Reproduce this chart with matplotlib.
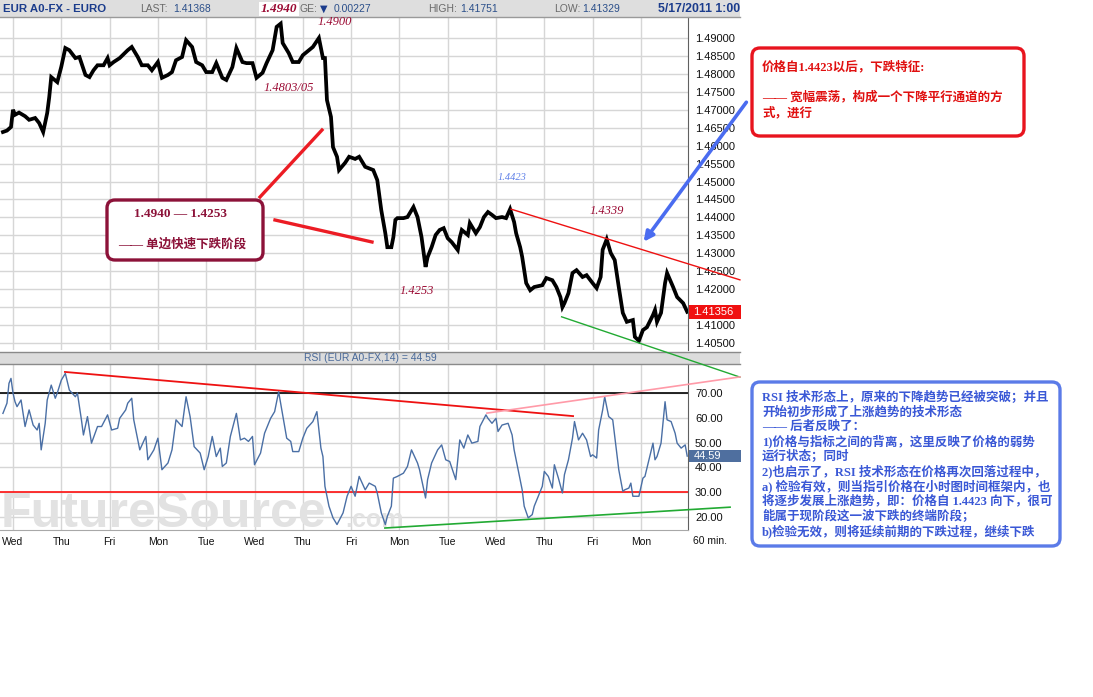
import matplotlib
matplotlib.use("Agg")
import matplotlib.pyplot as plt
import matplotlib.transforms as mtransforms
from matplotlib.patches import Rectangle, FancyBboxPatch, FancyArrowPatch
from matplotlib.lines import Line2D

W, H = 1093, 697

# hourly bars, hour 0 = first Wednesday gridline
hours = [-5, -3, -1, 0, 1, 3, 6, 8, 11, 13, 15, 17, 18, 19, 22, 24, 26, 28, 31, 33,
         36, 38, 40, 42, 45, 47, 48, 50, 53, 57, 59, 62, 64, 67, 69, 72, 74, 77, 79, 81,
         84, 86, 89, 91, 94, 96, 99, 101, 104, 106, 109, 111, 114, 116, 119, 121, 124, 126, 129, 131,
         133, 134, 137, 139, 142, 144, 147, 149, 152, 154, 155, 156, 158, 159, 161, 162, 165, 167, 170, 172,
         175, 179, 181, 183, 185, 186, 188, 189, 190, 191, 194, 196, 199, 201, 203, 205, 206, 208, 210, 212,
         214, 216, 218, 221, 222, 223, 226, 227, 230, 232, 234, 236, 238, 240, 243, 245, 247, 249, 250, 252,
         253, 255, 257, 259, 263, 265, 268, 270, 272, 273, 274, 276, 278, 280, 283, 285, 288, 290, 292, 293,
         295, 297, 299, 301, 303, 305, 308, 309, 311, 313, 315, 318, 319, 320, 322, 324, 325, 328, 330, 333,
         335]
price = [1.4638, 1.4642, 1.4652, 1.4700, 1.4686, 1.4692, 1.4682, 1.4672, 1.4677, 1.4663, 1.4638, 1.4691, 1.4735, 1.4791, 1.4777, 1.4820, 1.4872, 1.4866, 1.4844, 1.4847,
         1.4797, 1.4791, 1.4810, 1.4824, 1.4824, 1.4844, 1.4824, 1.4833, 1.4844, 1.4866, 1.4875, 1.4847, 1.4824, 1.4824, 1.4810, 1.4833, 1.4789, 1.4797, 1.4805, 1.4838,
         1.4847, 1.4894, 1.4875, 1.4833, 1.4824, 1.4805, 1.4805, 1.4830, 1.4789, 1.4783, 1.4819, 1.4872, 1.4833, 1.4830, 1.4830, 1.4789, 1.4803, 1.4830, 1.4866, 1.4931,
         1.4940, 1.4886, 1.4858, 1.4833, 1.4833, 1.4852, 1.4866, 1.4875, 1.4900, 1.4844, 1.4844, 1.4727, 1.4680, 1.4596, 1.4569, 1.4532, 1.4552, 1.4569, 1.4563, 1.4569,
         1.4541, 1.4532, 1.4504, 1.4420, 1.4356, 1.4317, 1.4317, 1.4345, 1.4393, 1.4398, 1.4398, 1.4401, 1.4429, 1.4401, 1.4345, 1.4262, 1.4289, 1.4317, 1.4351, 1.4365,
         1.4370, 1.4342, 1.4331, 1.4309, 1.4344, 1.4365, 1.4351, 1.4384, 1.4356, 1.4373, 1.4401, 1.4415, 1.4407, 1.4398, 1.4401, 1.4398, 1.4423, 1.4387, 1.4356, 1.4317,
         1.4290, 1.4217, 1.4197, 1.4206, 1.4211, 1.4231, 1.4225, 1.4206, 1.4178, 1.4150, 1.4161, 1.4189, 1.4245, 1.4253, 1.4234, 1.4239, 1.4217, 1.4203, 1.4234, 1.4310,
         1.4339, 1.4301, 1.4281, 1.4206, 1.4134, 1.4109, 1.4114, 1.4067, 1.4056, 1.4086, 1.4094, 1.4128, 1.4142, 1.4109, 1.4134, 1.4217, 1.4245, 1.4206, 1.4178, 1.4161,
         1.4137]

rsi_hours = [-5, -3, -2, -1, 0, 1, 2, 4, 6, 8, 10, 12, 13, 14, 16, 17, 19, 21, 22, 24,
             26, 28, 31, 32, 34, 35, 37, 39, 42, 44, 47, 49, 52, 53, 56, 57, 59, 60, 62, 63,
             66, 67, 70, 72, 74, 77, 79, 81, 84, 86, 88, 90, 93, 95, 97, 99, 101, 103, 104, 106,
             108, 111, 113, 115, 117, 119, 120, 123, 125, 128, 130, 132, 134, 136, 138, 139, 142, 144, 146, 149,
             151, 153, 154, 155, 157, 159, 161, 164, 166, 168, 170, 172, 175, 177, 180, 181, 183, 185, 186, 188,
             189, 191, 194, 196, 198, 201, 202, 205, 206, 208, 211, 213, 215, 217, 220, 221, 222, 224, 226, 228,
             231, 232, 235, 236, 238, 240, 241, 243, 246, 248, 249, 251, 253, 254, 256, 258, 259, 261, 263, 264,
             266, 268, 269, 271, 273, 274, 276, 278, 279, 281, 283, 285, 287, 288, 290, 291, 293, 294, 296, 298,
             299, 301, 303, 304, 306, 307, 308, 311, 313, 314, 316, 318, 319, 320, 322, 324, 325, 327, 329, 330,
             332, 334, 335]
rsi = [61.8, 65.9, 73.9, 75.9, 70.0, 66.5, 64.5, 67.2, 56.5, 63.2, 57.1, 55.1, 57.8, 47.1, 57.8, 67.2, 73.2, 67.9, 70.0, 75.2,
       77.9, 71.2, 68.5, 70.0, 59.2, 53.1, 60.5, 49.8, 56.5, 56.5, 61.2, 55.1, 55.8, 59.8, 63.2, 65.9, 67.9, 59.2, 51.1, 47.1,
       52.5, 43.1, 47.1, 51.8, 39.1, 41.8, 47.1, 59.2, 56.5, 68.5, 60.5, 48.4, 45.8, 39.1, 44.4, 52.5, 44.4, 47.8, 40.4, 41.8,
       52.5, 61.8, 51.1, 51.8, 50.5, 52.5, 41.1, 45.8, 53.8, 59.8, 62.5, 70.5, 61.2, 51.8, 50.5, 46.4, 46.4, 51.8, 55.8, 58.5,
       62.5, 47.8, 44.4, 32.4, 24.4, 19.7, 17.0, 21.7, 28.4, 32.4, 28.4, 36.4, 31.0, 33.7, 32.4, 29.7, 21.7, 17.0, 20.3, 24.4,
       35.7, 36.4, 37.7, 40.4, 47.1, 41.8, 39.1, 27.7, 35.1, 41.8, 47.1, 49.1, 43.1, 42.4, 35.1, 43.1, 51.1, 47.8, 53.1, 49.8,
       50.5, 56.5, 61.2, 59.8, 57.8, 59.8, 54.5, 57.1, 57.8, 53.1, 47.1, 39.1, 31.0, 24.4, 19.7, 21.0, 24.4, 28.4, 32.4, 38.4,
       36.4, 31.7, 41.1, 35.7, 29.7, 37.1, 43.1, 51.8, 58.5, 51.1, 53.8, 51.1, 44.4, 45.1, 43.8, 55.1, 63.2, 68.5, 60.5, 59.2,
       52.5, 39.1, 30.4, 31.0, 31.7, 33.7, 28.4, 28.4, 35.7, 36.4, 43.1, 49.8, 43.1, 44.4, 49.8, 66.5, 59.2, 58.5, 53.8, 49.8,
       47.8, 49.1, 44.59]

day_labels = ["Wed", "Thu", "Fri", "Mon", "Tue", "Wed", "Thu", "Fri", "Mon", "Tue", "Wed", "Thu", "Fri", "Mon"]
day_starts = [24 * i for i in range(len(day_labels))]
price_ticks = [1.405 + 0.005 * i for i in range(18)]
rsi_ticks = [20, 30, 40, 50, 60, 70]

# trend lines (hour, value)
upper_channel = ([247.5, 361.2], [1.4423, 1.4226])
lower_channel = ([272.6, 361.2], [1.4123, 1.3955])
rsi_down = ([25.8, 278.3], [78.5, 60.7])
rsi_break = ([235.5, 361.2], [61.9, 76.5])
rsi_support = ([184.8, 356.3], [15.6, 24.0])

last_price = 1.41356
last_rsi = 44.59

SANS = "Liberation Sans"
SERIF_CJK = ["Liberation Serif", "Noto Sans CJK SC", "DejaVu Sans"]

fig = plt.figure(figsize=(W / 100, H / 100), dpi=100)
# pixel coordinates, y pointing down
pix = mtransforms.Affine2D().scale(1 / W, -1 / H).translate(0, 1) + fig.transFigure


def fy(y):
    return 1 - y / H


grid_c = "#d6d6d6"
xlim = (-6.46, 335.4)

ax_p = fig.add_axes([0, fy(350), 688 / W, (350 - 17) / H])
ax_r = fig.add_axes([0, fy(530), 688 / W, (530 - 364) / H])

# price panel
ax_p.plot(hours, price, color="black", lw=2.7, solid_joinstyle="miter", zorder=3)
ax_p.set_xlim(*xlim)
ax_p.set_ylim(1.40305, 1.49585)
ax_p.set_xticks(day_starts)
ax_p.set_xticklabels([])
ax_p.set_yticks(price_ticks)
# the 1.41500 label sits under the last-price tag
ax_p.set_yticklabels(["" if abs(v - 1.415) < 1e-9 else f"{v:.5f}" for v in price_ticks])
ax_p.yaxis.tick_right()
ax_p.grid(True, color=grid_c, lw=1)
ax_p.set_axisbelow(True)

# rsi panel
ax_r.plot(rsi_hours, rsi, color="#4a6fa5", lw=1.0, zorder=3)
ax_r.axhline(70, color="black", lw=1.2, zorder=2)
ax_r.axhline(30, color="#ff1010", lw=1.2, zorder=2)
ax_r.plot(*rsi_down, color="#ee1111", lw=1.3, zorder=2)
ax_r.set_xlim(*xlim)
ax_r.set_ylim(14.8, 81.7)
ax_r.set_yticks(rsi_ticks)
ax_r.set_yticklabels([f"{v:.2f}" for v in rsi_ticks])
ax_r.yaxis.tick_right()
ax_r.set_xticks(day_starts)
ax_r.set_xticklabels(day_labels)
ax_r.grid(True, color=grid_c, lw=1)
ax_r.set_axisbelow(True)
ax_r.text(-6.3, 16.0, "FutureSource", fontsize=36, fontweight="bold", family=SANS,
          color="#e2e2e2", va="baseline", ha="left", zorder=1)
ax_r.text(165, 16.0, ".com", fontsize=18, fontweight="bold", family=SANS,
          color="#e2e2e2", va="baseline", ha="left", zorder=1)

for ax in (ax_p, ax_r):
    for s in ("left", "top", "bottom"):
        ax.spines[s].set_visible(False)
    ax.spines["right"].set_color("#606060")
    ax.tick_params(axis="y", length=0, pad=5, labelsize=8, labelcolor="#111111")
    ax.tick_params(axis="x", length=0, pad=5, labelsize=7.5, labelcolor="#111111")
    for lab in ax.get_yticklabels() + ax.get_xticklabels():
        lab.set_family(SANS)
ax_r.spines["bottom"].set_visible(True)
ax_r.spines["bottom"].set_color("#a8a8a8")

# header bar and rsi title bar
fig.add_artist(Rectangle((0, 0), 740, 17, transform=pix, facecolor="#dedede",
                         edgecolor="none", zorder=0))
fig.add_artist(Line2D([0, 740], [17, 17], transform=pix, color="#9a9a9a", lw=1))
fig.add_artist(Rectangle((0, 352), 740, 12, transform=pix, facecolor="#dcdcdc",
                         edgecolor="none", zorder=0))
fig.add_artist(Line2D([0, 740], [352, 352], transform=pix, color="#8a8a8a", lw=1))
fig.add_artist(Line2D([0, 740], [364, 364], transform=pix, color="#8a8a8a", lw=1))
fig.text(370, 358, "RSI (EUR A0-FX,14) = 44.59", transform=pix, ha="center", va="center",
         fontsize=7.5, family=SANS, color="#4a6a9a")

hdr_blue = "#1b3c8c"
fig.text(3, 8.5, "EUR A0-FX - EURO", transform=pix, fontsize=8.2, fontweight="bold",
         family=SANS, color=hdr_blue, va="center")
fig.text(140, 8.5, "LAST:", transform=pix, fontsize=7.5, family=SANS, color="#6a6a6a", va="center")
fig.text(173, 8.5, "1.41368", transform=pix, fontsize=7.5, family=SANS, color="#2b4f8a", va="center")
# "CHANGE:" is mostly covered by the 1.4940 label in the original
fig.text(300, 8.5, "GE:", transform=pix, fontsize=7.5, family=SANS, color="#6a6a6a",
         va="center", ha="left")
fig.text(320, 8.5, "\u25bc", transform=pix, fontsize=7, family="DejaVu Sans", color=hdr_blue, va="center")
fig.text(334, 8.5, "0.00227", transform=pix, fontsize=7.5, family=SANS, color="#2b4f8a", va="center")
fig.text(428, 8.5, "HIGH:", transform=pix, fontsize=7.5, family=SANS, color="#6a6a6a", va="center")
fig.text(460, 8.5, "1.41751", transform=pix, fontsize=7.5, family=SANS, color="#2b4f8a", va="center")
fig.text(554, 8.5, "LOW:", transform=pix, fontsize=7.5, family=SANS, color="#6a6a6a", va="center")
fig.text(582, 8.5, "1.41329", transform=pix, fontsize=7.5, family=SANS, color="#2b4f8a", va="center")
fig.text(740, 8.5, "5/17/2011 1:00", transform=pix, fontsize=8.8, fontweight="bold",
         family=SANS, color=hdr_blue, va="center", ha="right")
fig.text(710, 541, "60 min.", transform=pix, fontsize=7.5, family=SANS, color="#111111",
         va="center", ha="center")

# trend lines that run past the plot edge
fig.add_artist(Line2D(*upper_channel, transform=ax_p.transData, color="#ee1111", lw=1.0, zorder=5))
fig.add_artist(Line2D(*lower_channel, transform=ax_p.transData, color="#22aa33", lw=1.0, zorder=5))
fig.add_artist(Line2D(*rsi_break, transform=ax_r.transData, color="#ff9aa8", lw=1.2, zorder=5))
fig.add_artist(Line2D(*rsi_support, transform=ax_r.transData, color="#22aa33", lw=1.2, zorder=5))

# last value tags
tp = mtransforms.blended_transform_factory(ax_p.transAxes, ax_p.transData)
fig.add_artist(Rectangle((1.002, last_price - 0.0019), 52 / 688, 0.0038, transform=tp,
                         facecolor="#f01010", edgecolor="none", zorder=6))
fig.add_artist(plt.Text(1.008, last_price, f"{last_price:.5f}", transform=tp, color="white",
                        fontsize=8, family=SANS, va="center", ha="left", zorder=7))
tr = mtransforms.blended_transform_factory(ax_r.transAxes, ax_r.transData)
fig.add_artist(Rectangle((1.002, last_rsi - 2.5), 52 / 688, 5.0, transform=tr,
                         facecolor="#4f6f9f", edgecolor="none", zorder=6))
fig.add_artist(plt.Text(1.008, last_rsi, f"{last_rsi:.2f}", transform=tr, color="white",
                        fontsize=8, family=SANS, va="center", ha="left", zorder=7))

# price labels on the chart
lab_red = "#9b0a33"
fig.text(279, 9, "1.4940", transform=pix, fontsize=9.5, style="italic", fontweight="bold",
         family="Liberation Serif", color=lab_red, ha="center", va="center",
         bbox=dict(facecolor="white", edgecolor="none", pad=1.0))
fig.text(335, 22, "1.4900", transform=pix, fontsize=9, style="italic", family="Liberation Serif",
         color=lab_red, ha="center", va="center")
fig.text(289, 88, "1.4803/05", transform=pix, fontsize=9, style="italic", family="Liberation Serif",
         color=lab_red, ha="center", va="center")
fig.text(512, 177, "1.4423", transform=pix, fontsize=7.5, style="italic", family="Liberation Serif",
         color="#5f80e8", ha="center", va="center")
fig.text(607, 211, "1.4339", transform=pix, fontsize=9, style="italic", family="Liberation Serif",
         color=lab_red, ha="center", va="center")
fig.text(417, 291, "1.4253", transform=pix, fontsize=9, style="italic", family="Liberation Serif",
         color=lab_red, ha="center", va="center")

# red pointer lines
fig.add_artist(Line2D([260, 322], [197, 130], transform=pix, color="#ec1c24", lw=2.4, zorder=8))
fig.add_artist(Line2D([275, 372], [220, 242], transform=pix, color="#ec1c24", lw=2.4, zorder=8))
# blue arrow to the channel
fig.add_artist(FancyArrowPatch((748, 100), (642, 244), transform=pix, arrowstyle="-|>",
                               mutation_scale=14, color="#4a6cf0", lw=2.6, zorder=8))

# box 1
maroon = "#8c1239"
fig.add_artist(FancyBboxPatch((107, 200), 156, 60, boxstyle="round,pad=0,rounding_size=8",
                              transform=pix, facecolor="white", edgecolor=maroon, lw=2.4, zorder=9))
fig.text(180, 214, "1.4940 \u2014 1.4253", transform=pix, fontsize=9.5, fontweight="bold",
         family=SERIF_CJK, color=maroon, ha="center", va="center", zorder=10)
fig.text(118, 244, "\u2014\u2014 单边快速下跌阶段", transform=pix, fontsize=9, fontweight="bold",
         family=SERIF_CJK, color=maroon, ha="left", va="center", zorder=10)

# box 2
red = "#e8141e"
fig.add_artist(FancyBboxPatch((752, 48), 272, 88, boxstyle="round,pad=0,rounding_size=8",
                              transform=pix, facecolor="white", edgecolor=red, lw=2.4, zorder=9))
box2_lines = [(67, "价格自1.4423以后，下跌特征:"),
              (97, "\u2014\u2014 宽幅震荡，构成一个下降平行通道的方"),
              (113, "式，进行")]
for y, s in box2_lines:
    fig.text(762, y, s, transform=pix, fontsize=9, fontweight="bold", family=SERIF_CJK,
             color="#e01010", ha="left", va="center", zorder=10)

# box 3
blue = "#5b7be8"
fig.add_artist(FancyBboxPatch((752, 382), 308, 164, boxstyle="round,pad=0,rounding_size=8",
                              transform=pix, facecolor="white", edgecolor=blue, lw=2.4, zorder=9))
box3_lines = ["RSI 技术形态上，原来的下降趋势已经被突破；并且",
              "开始初步形成了上涨趋势的技术形态",
              "\u2014\u2014 后者反映了：",
              "1)价格与指标之间的背离，这里反映了价格的弱势",
              "运行状态；同时",
              "2)也启示了，RSI 技术形态在价格再次回落过程中，",
              "a) 检验有效，则当指引价格在小时图时间框架内，也",
              "将逐步发展上涨趋势，即：价格自 1.4423 向下，很可",
              "能属于现阶段这一波下跌的终端阶段；",
              "b)检验无效，则将延续前期的下跌过程，继续下跌"]
for i, s in enumerate(box3_lines):
    fig.text(762, 397 + i * 14.9, s, transform=pix, fontsize=9, fontweight="bold",
             family=SERIF_CJK, color="#3a58d6", ha="left", va="center", zorder=10)

fig.savefig("out.png", dpi=100)
